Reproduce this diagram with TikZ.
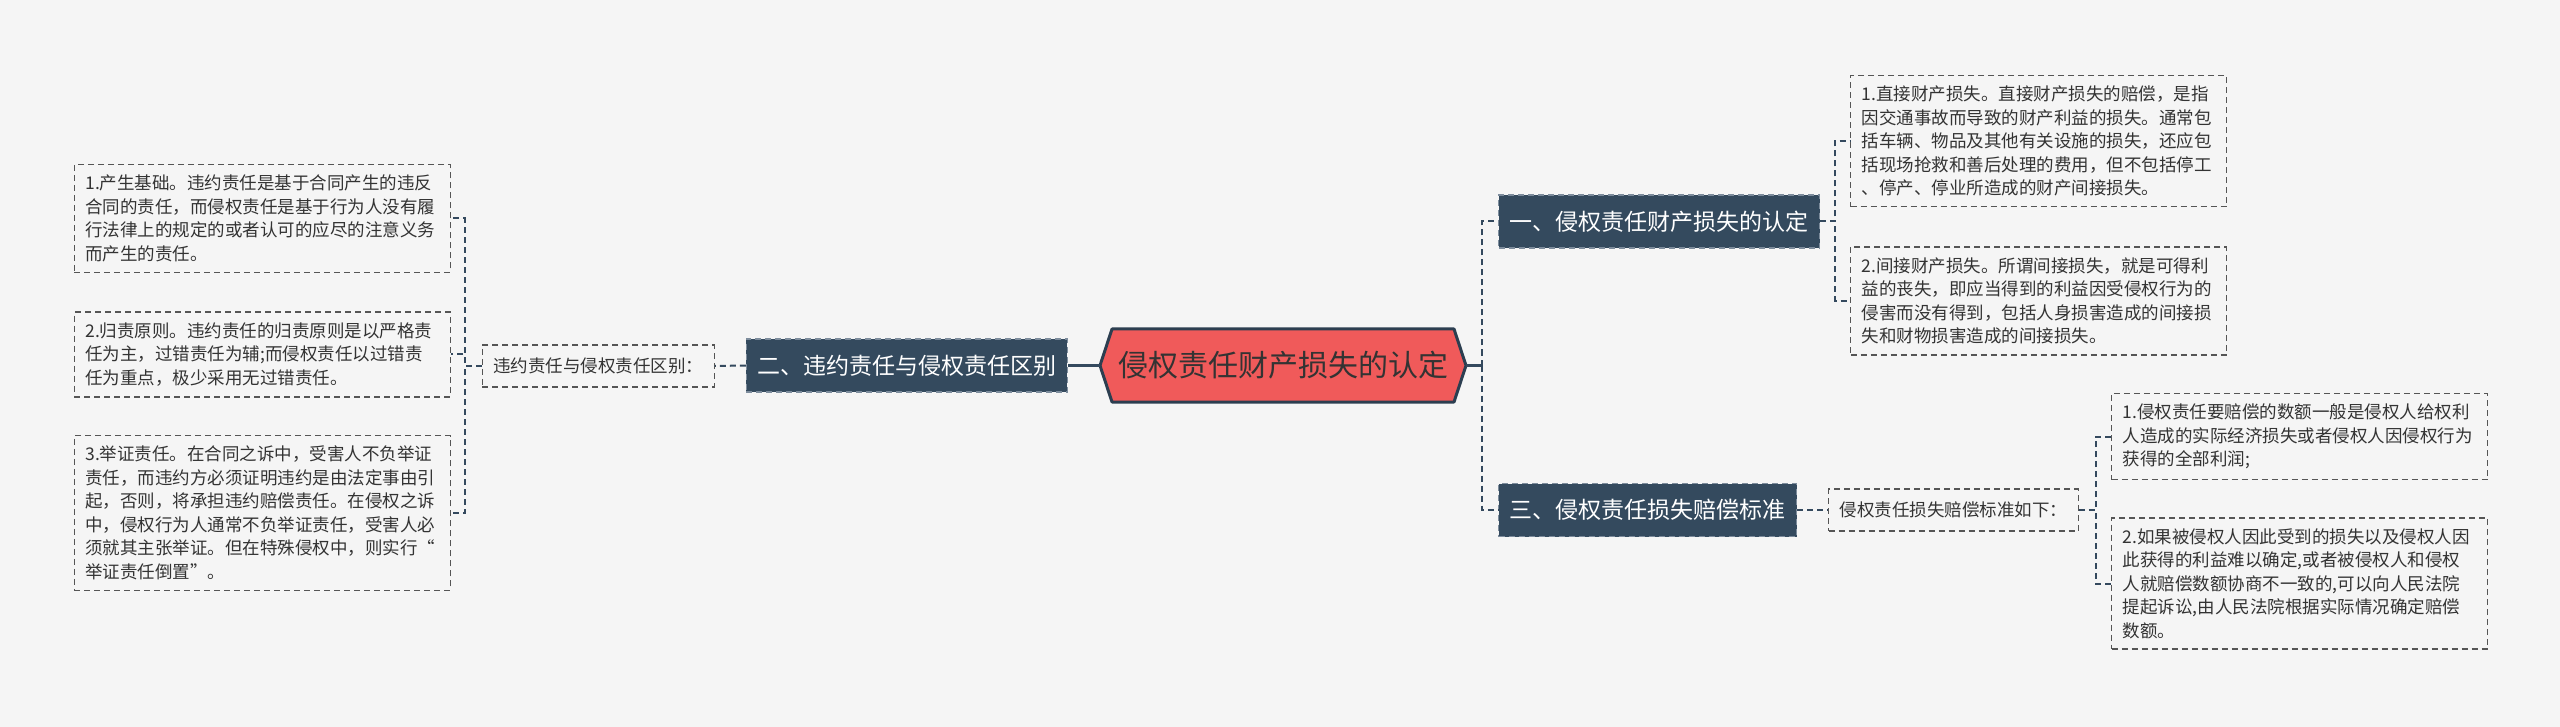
\documentclass[tikz,border=0pt]{standalone}
\usepackage{fontspec}
\setmainfont{Noto Sans CJK SC}
\usetikzlibrary{calc}

\definecolor{bgcol}{HTML}{F5F5F5}
\definecolor{topicfill}{HTML}{344A5E}
\definecolor{topicedge}{HTML}{7D8C9C}
\definecolor{rootred}{HTML}{F05A5A}
\definecolor{rootedge}{HTML}{2C3E50}
\definecolor{linecol}{HTML}{34495E}
\definecolor{leafedge}{HTML}{555555}
\definecolor{txt}{HTML}{333333}

\begin{document}
\begin{tikzpicture}[x=0.5pt,y=-0.5pt,
  roottext/.style={minimum width=183pt,minimum height=36.5pt,inner sep=0pt,text=txt,font=\fontsize{15pt}{17pt}\selectfont},
  topic/.style={fill=topicfill,draw=topicedge,dash pattern=on 3pt off 2pt,line width=0.6pt,text=white,font=\fontsize{11.5pt}{13pt}\selectfont,minimum height=26.5pt,inner xsep=5.5pt},
  sub/.style={draw=leafedge,dash pattern=on 3pt off 2pt,line width=0.7pt,text=txt,font=\fontsize{8.75pt}{11.75pt}\selectfont,minimum height=21pt,inner xsep=5.5pt},
  leaf/.style={sub,text width=177pt,align=left,inner ysep=5.25pt},
  link/.style={draw=linecol,line width=1pt,dash pattern=on 3pt off 2pt},
  trunk/.style={draw=linecol,line width=1.2pt}]
\useasboundingbox (0,0) rectangle (2560,727);
\fill[bgcol] (0,0) rectangle (2560,727);

\coordinate (c) at (1283,365.5);
\filldraw[fill=rootred,draw=rootedge,line width=1.5pt,line join=round] ($(c)+(-183,0)$) -- ($(c)+(-171,-36.5)$) -- ($(c)+(171,-36.5)$) -- ($(c)+(183,0)$) -- ($(c)+(171,36.5)$) -- ($(c)+(-171,36.5)$) -- cycle;
\node[roottext] (root) at (c) {侵权责任财产损失的认定};

% left branch
\node[topic,anchor=east] (L1left) at (1068,365.5) {二、违约责任与侵权责任区别};
\node[sub,anchor=east] (L2left) at (715,366) {违约责任与侵权责任区别：};
\node[leaf,anchor=east] (LA) at (451,218.5) {1.产生基础。违约责任是基于合同产生的违反\\合同的责任，而侵权责任是基于行为人没有履\\行法律上的规定的或者认可的应尽的注意义务\\而产生的责任。};
\node[leaf,anchor=east] (LB) at (451,354.5) {2.归责原则。违约责任的归责原则是以严格责\\任为主，过错责任为辅;而侵权责任以过错责\\任为重点，极少采用无过错责任。};
\node[leaf,anchor=east] (LC) at (451,513) {3.举证责任。在合同之诉中，受害人不负举证\\责任，而违约方必须证明违约是由法定事由引\\起，否则，将承担违约赔偿责任。在侵权之诉\\中，侵权行为人通常不负举证责任，受害人必\\须就其主张举证。但在特殊侵权中，则实行“\\举证责任倒置”。};

% right branch
\node[topic,anchor=west] (R1) at (1498,221.5) {一、侵权责任财产损失的认定};
\node[topic,anchor=west] (R3) at (1498,510) {三、侵权责任损失赔偿标准};
\node[leaf,anchor=west] (RA1) at (1850,141) {1.直接财产损失。直接财产损失的赔偿，是指\\因交通事故而导致的财产利益的损失。通常包\\括车辆、物品及其他有关设施的损失，还应包\\括现场抢救和善后处理的费用，但不包括停工\\、停产、停业所造成的财产间接损失。};
\node[leaf,anchor=west] (RA2) at (1850,301) {2.间接财产损失。所谓间接损失，就是可得利\\益的丧失，即应当得到的利益因受侵权行为的\\侵害而没有得到，包括人身损害造成的间接损\\失和财物损害造成的间接损失。};
\node[sub,anchor=west] (R2) at (1828,510) {侵权责任损失赔偿标准如下：};
\node[leaf,anchor=west] (RB1) at (2111,436.5) {1.侵权责任要赔偿的数额一般是侵权人给权利\\人造成的实际经济损失或者侵权人因侵权行为\\获得的全部利润;};
\node[leaf,anchor=west] (RB2) at (2111,583.5) {2.如果被侵权人因此受到的损失以及侵权人因\\此获得的利益难以确定,或者被侵权人和侵权\\人就赔偿数额协商不一致的,可以向人民法院\\提起诉讼,由人民法院根据实际情况确定赔偿\\数额。};

\draw[trunk] (root.west) -- (L1left.east);
\draw[link] (L1left.west) -- (L2left.east);
\foreach \n in {LA,LB,LC} \draw[link] (L2left.west) -- ++(-17,0) |- (\n.east);
\draw[trunk] (root.east) -- ++(16,0) coordinate (rj);
\foreach \n in {R1,R3} \draw[link] (rj) |- (\n.west);
\foreach \n in {RA1,RA2} \draw[link] (R1.east) -- ++(15,0) |- (\n.west);
\draw[link] (R3.east) -- (R2.west);
\foreach \n in {RB1,RB2} \draw[link] (R2.east) -- ++(17,0) |- (\n.west);
\end{tikzpicture}
\end{document}
